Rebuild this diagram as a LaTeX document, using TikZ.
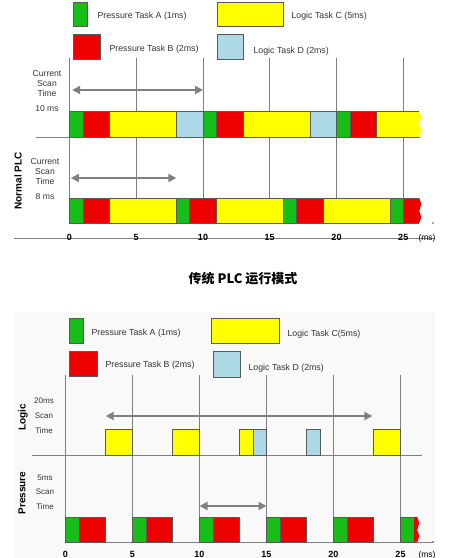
\documentclass[tikz,border=0pt]{standalone}
\usepackage{fontspec}
\setmainfont{Liberation Sans}
\newfontfamily\cjk{Noto Sans CJK SC}
\usetikzlibrary{arrows.meta}

\definecolor{taskA}{RGB}{24,190,24}
\definecolor{taskB}{RGB}{236,0,0}
\definecolor{taskC}{RGB}{255,255,0}
\definecolor{taskD}{RGB}{173,216,230}
\definecolor{gridgray}{RGB}{128,128,128}
\definecolor{panelgray}{RGB}{249,249,249}

\tikzset{
  bar/.style={draw=black!65,line width=0.6pt},
  legbox/.style={draw=black!65,line width=0.6pt,inner sep=0pt},
  legtext/.style={anchor=west,text=black!80,font=\fontsize{8.8}{9}\selectfont},
  lbl/.style={text=black!80,align=center,font=\fontsize{8.6}{10}\selectfont},
  lblsmall/.style={text=black!80,font=\fontsize{8}{9}\selectfont},
  rowname/.style={rotate=90,font=\fontsize{10}{10}\selectfont\bfseries},
  tick/.style={anchor=base,font=\fontsize{9}{9}\selectfont\bfseries},
  grid line/.style={draw=gridgray,line width=0.8pt},
  scan/.style={draw=gridgray,line width=1.8pt,{Triangle[length=8pt,width=8pt]}-{Triangle[length=8pt,width=8pt]}},
}

\begin{document}
\begin{tikzpicture}[x=1pt,y=-1pt]
\useasboundingbox (0,0) rectangle (456,558);
\fill[panelgray] (14,312) rectangle (435,558);

% legend of the normal PLC
\node[legbox,fill=taskA,minimum width=14pt,minimum height=24pt] (keyA) at (80,14) {};
\node[legbox,fill=taskC,minimum width=66pt,minimum height=24pt] (keyC) at (250,14) {};
\node[legbox,fill=taskB,minimum width=27pt,minimum height=25pt] (keyB) at (86.5,46.5) {};
\node[legbox,fill=taskD,minimum width=26pt,minimum height=25pt] (keyD) at (230,46.5) {};
\node[legtext] (txtA) at (94,16) {Pressure Task A (1ms)};
\node[legtext] (txtC) at (288,16) {Logic Task C (5ms)};
\node[legtext] (txtB) at (106,49) {Pressure Task B (2ms)};
\node[legtext] (txtD) at (250,51) {Logic Task D (2ms)};

% normal PLC time lines
\draw[grid line] (14,238) -- (435,238);
\draw[grid line] (36,137) -- (420,137);
\begin{scope}[shift={(69.5pt,0pt)},x=13.35pt]
  \foreach \t in {0,5,...,25}
    \draw[grid line] (\t,58) -- (\t,223);
  \foreach \s/\a/\b in {taskA/0/1,taskB/1/3,taskC/3/8,taskD/8/10,
                        taskA/10/11,taskB/11/13,taskC/13/18,taskD/18/20,
                        taskA/20/21,taskB/21/23}
    \draw[bar,fill=\s] (\a,111) rectangle (\b,137);
  \fill[taskC] (23,111) -- (26.2,111) -- (26.35,117) -- (26.2,124)
    -- (26.35,131) -- (26.2,137) -- (23,137) -- cycle;
  \draw[bar] (26.2,111) -- (23,111) -- (23,137) -- (26.2,137);
  \foreach \s/\a/\b in {taskA/0/1,taskB/1/3,taskC/3/8,
                        taskA/8/9,taskB/9/11,taskC/11/16,
                        taskA/16/17,taskB/17/19,taskC/19/24,taskA/24/25}
    \draw[bar,fill=\s] (\a,198) rectangle (\b,223);
  \fill[taskB] (25,198) -- (26.2,198) -- (26.35,204) -- (26.2,211)
    -- (26.35,217) -- (26.2,223) -- (25,223) -- cycle;
  \draw[bar] (26.2,198) -- (25,198) -- (25,223) -- (26.2,223);
  \coordinate (scanA1) at (0.2,90);
  \coordinate (scanA2) at (10,90);
  \coordinate (scanB1) at (0.1,178);
  \coordinate (scanB2) at (8,178);
  \draw[scan] (scanA1) -- (scanA2);
  \draw[scan] (scanB1) -- (scanB2);
  \foreach \t in {0,5,...,25}
    \node[tick] (tickA\t) at (\t,240) {\t};
\end{scope}
\fill[black!70] (433,223) circle (0.9pt);
\node[tick,anchor=base,font=\fontsize{8.5}{9}\selectfont] (unitA) at (427,240) {(ms)};

\node[lbl] (curA) at (47,84) {Current\\Scan\\Time};
\node[lbl] (tenms) at (47,109) {10 ms};
\node[lbl] (curB) at (45,172) {Current\\Scan\\Time};
\node[lbl] (eightms) at (45,197) {8 ms};
\node[rowname] (normal) at (18,181) {Normal PLC};

% title
\node[font=\cjk\bfseries\fontsize{13}{13}\selectfont] (title) at (243,279) {传统 PLC 运行模式};

% legend of the split scan
\node[legbox,fill=taskA,minimum width=14pt,minimum height=25pt] (keyA2) at (76,330.5) {};
\node[legbox,fill=taskC,minimum width=68pt,minimum height=25pt] (keyC2) at (245,330.5) {};
\node[legbox,fill=taskB,minimum width=28pt,minimum height=25pt] (keyB2) at (83,363.5) {};
\node[legbox,fill=taskD,minimum width=27pt,minimum height=26pt] (keyD2) at (226.5,364) {};
\node[legtext] (txtA2) at (88,333) {Pressure Task A (1ms)};
\node[legtext] (txtC2) at (284,334) {Logic Task C(5ms)};
\node[legtext] (txtB2) at (102,365) {Pressure Task B (2ms)};
\node[legtext] (txtD2) at (245,368) {Logic Task D (2ms)};

% split scan time lines
\draw[grid line] (32,455) -- (422,455);
\draw[grid line] (65.5,542) -- (433,542);
\begin{scope}[shift={(65.5pt,0pt)},x=13.4pt]
  \foreach \t in {0,5,...,25}
    \draw[grid line] (\t,375) -- (\t,542);
  \foreach \s/\a/\b in {taskC/3/5,taskC/8/10,taskC/13/14,taskD/14/15,
                        taskD/18/19,taskC/23/25}
    \draw[bar,fill=\s] (\a,429) rectangle (\b,455);
  \foreach \s/\a/\b in {taskA/0/1,taskB/1/3,taskA/5/6,taskB/6/8,
                        taskA/10/11,taskB/11/13,taskA/15/16,taskB/16/18,
                        taskA/20/21,taskB/21/23,taskA/25/26}
    \draw[bar,fill=\s] (\a,517) rectangle (\b,542);
  \fill[taskB] (26,517) -- (26.25,517) -- (26.4,523) -- (26.25,530)
    -- (26.4,536) -- (26.25,542) -- (26,542) -- cycle;
  \coordinate (scanC1) at (3,416);
  \coordinate (scanC2) at (22.9,416);
  \coordinate (scanD1) at (10,506);
  \coordinate (scanD2) at (15,506);
  \draw[scan] (scanC1) -- (scanC2);
  \draw[scan] (scanD1) -- (scanD2);
  \foreach \t in {0,5,...,25}
    \node[tick] (tickB\t) at (\t,557) {\t};
\end{scope}
\fill[black!70] (433,542) circle (0.9pt);
\node[tick,anchor=base,font=\fontsize{8.5}{9}\selectfont] (unitB) at (427,557) {(ms)};

\node[lblsmall] (twentyms) at (44,401) {20ms};
\node[lblsmall] (scanL) at (44,416) {Scan};
\node[lblsmall] (timeL) at (44,431) {Time};
\node[lblsmall] (fivems) at (45,478) {5ms};
\node[lblsmall] (scanP) at (45,492) {Scan};
\node[lblsmall] (timeP) at (45,507) {Time};
\node[rowname] (logic) at (23,417) {Logic};
\node[rowname] (pressure) at (22,493) {Pressure};
\end{tikzpicture}
\end{document}
